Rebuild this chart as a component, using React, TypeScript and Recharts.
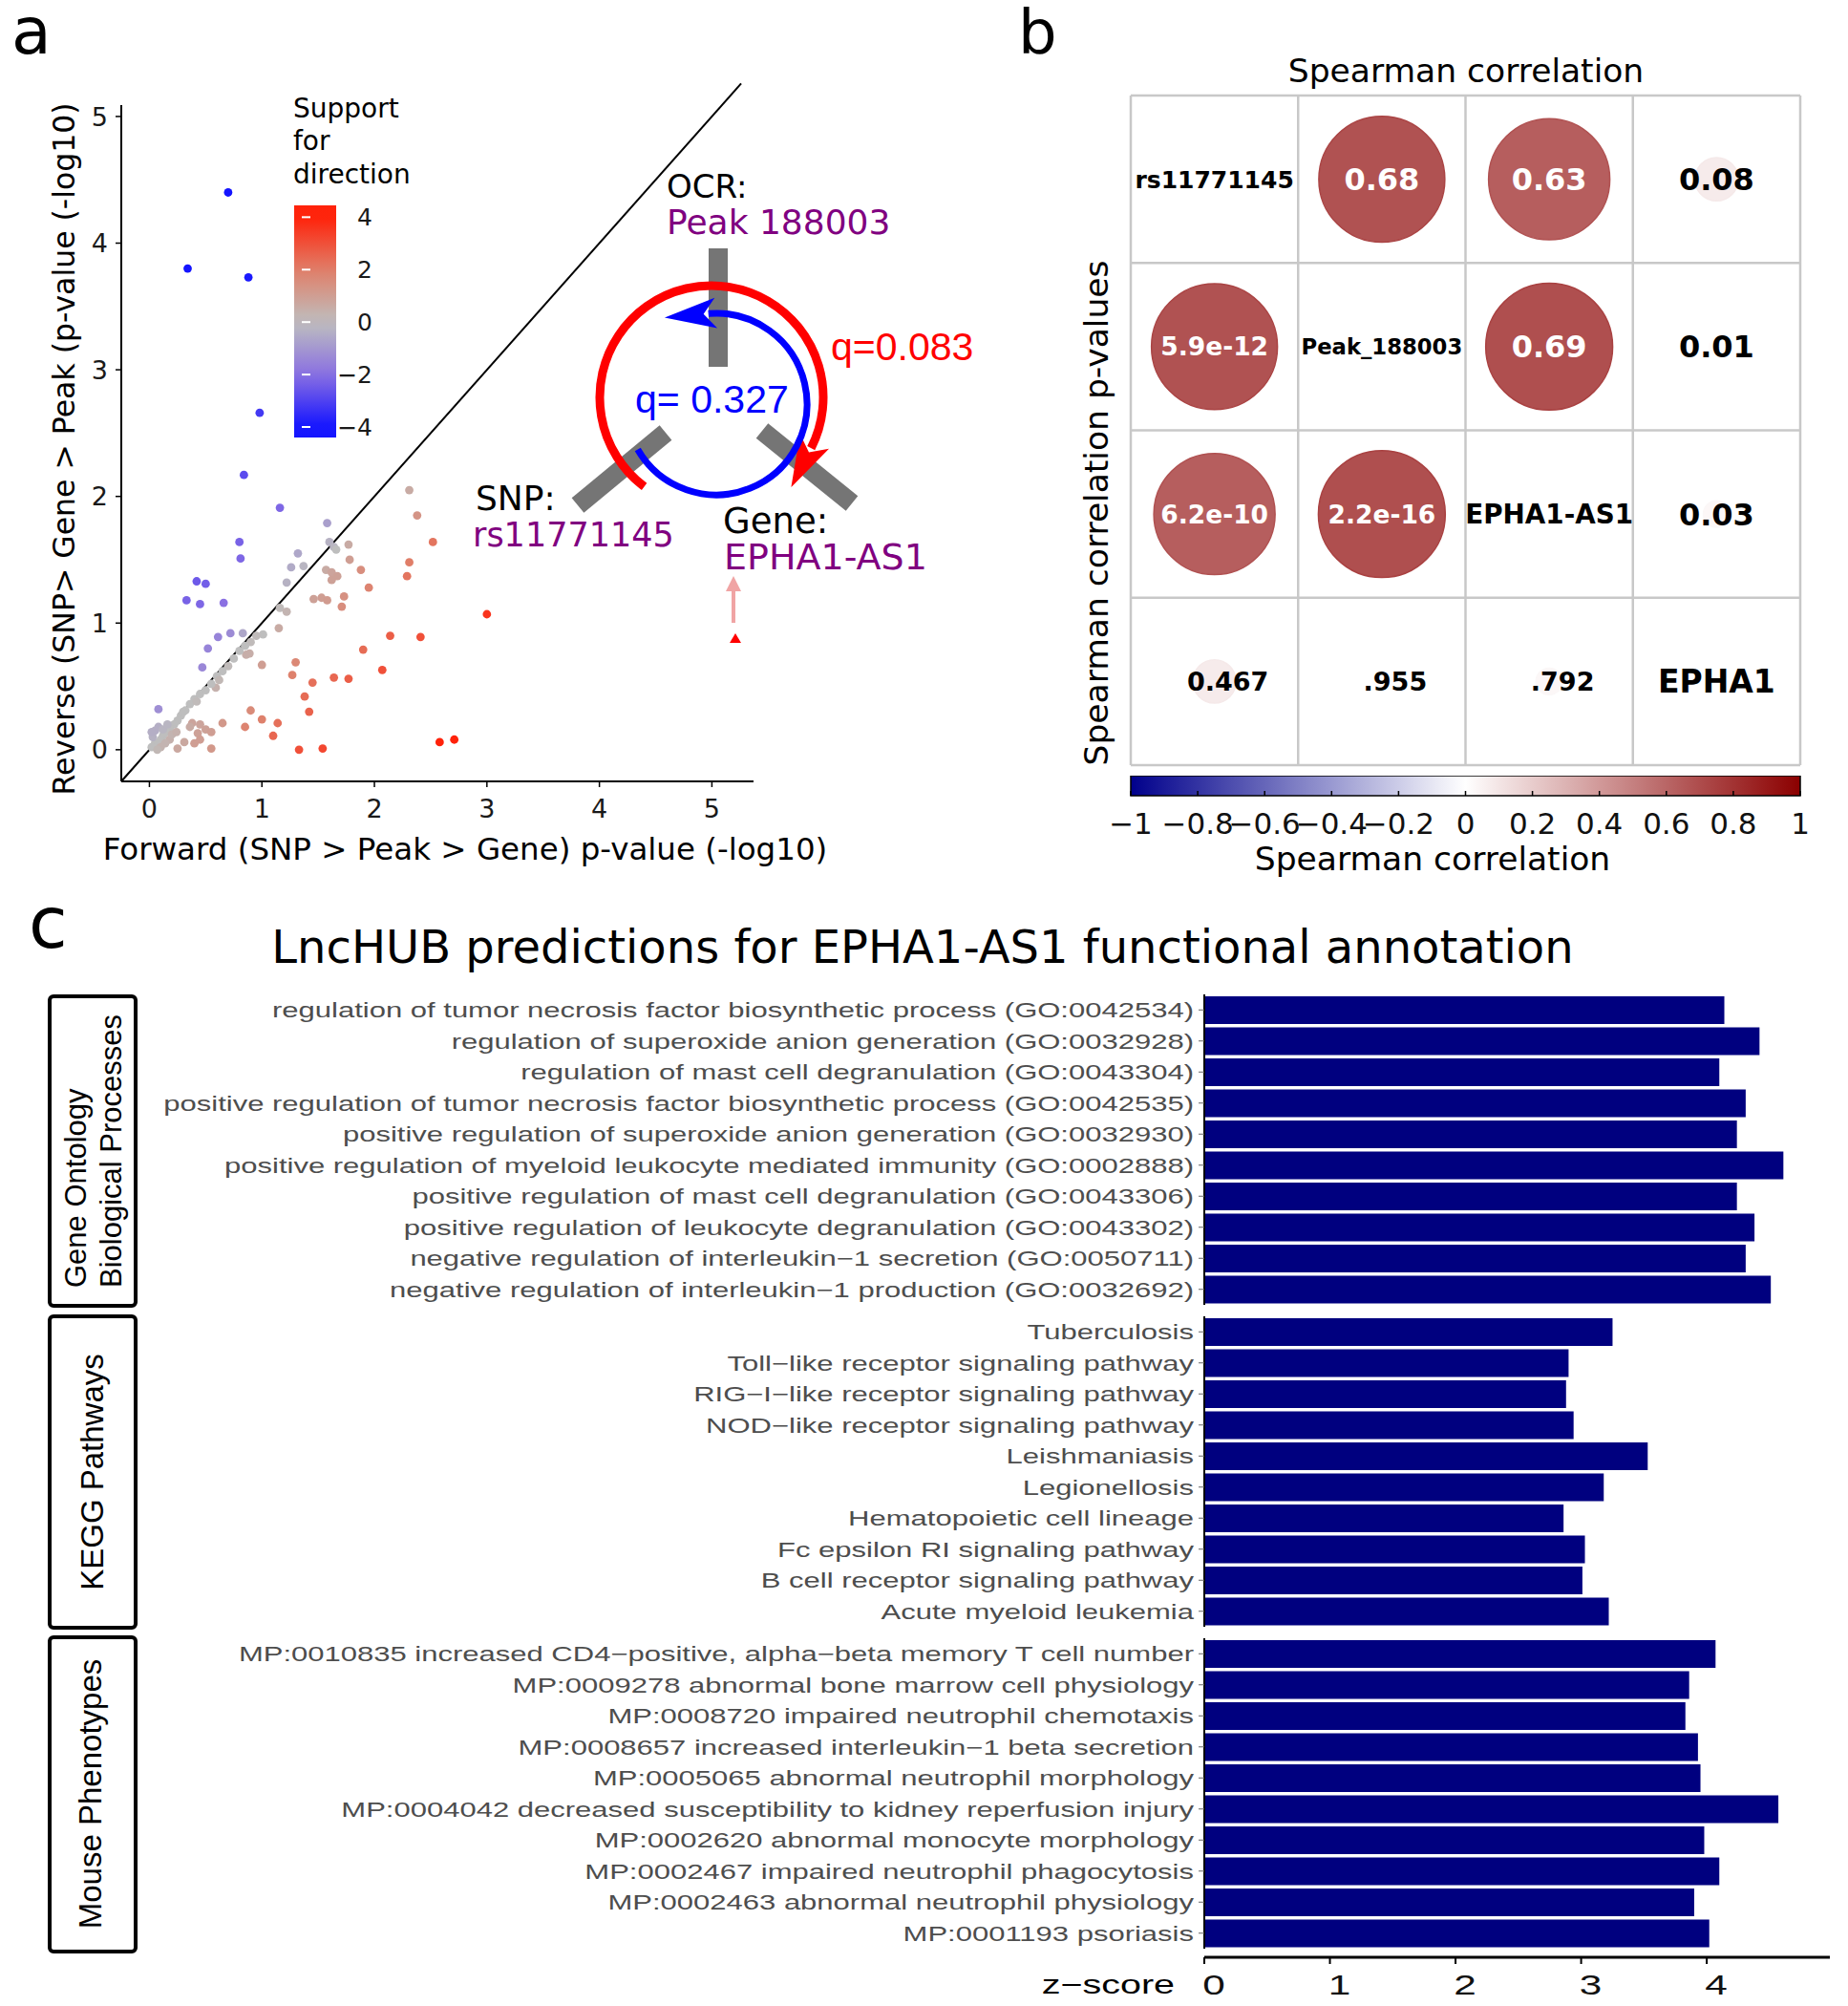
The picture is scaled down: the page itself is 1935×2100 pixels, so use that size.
import React from "react"
import {
  ScatterChart,
  Scatter,
  ComposedChart,
  Line,
  BarChart,
  Bar,
  XAxis,
  YAxis,
  ReferenceLine,
  ReferenceArea,
} from "recharts"

// ---- panel a: forward vs reverse p-value (-log10), support for direction
// [forward, reverse, support]
const scatterPoints: [number, number, number][] = [
  [0.7, 4.4, -4.2], [0.34, 3.8, -4.0], [0.88, 3.73, -3.9], [0.98, 2.66, -3.2],
  [0.84, 2.17, -2.8], [1.16, 1.91, -2.2], [0.8, 1.64, -2.3], [0.81, 1.51, -2.2],
  [0.42, 1.33, -2.5], [0.5, 1.31, -2.4], [0.33, 1.18, -2.3], [0.45, 1.15, -2.2],
  [0.66, 1.16, -2.0], [0.61, 0.89, -1.5], [0.72, 0.92, -1.3], [0.52, 0.8, -1.5],
  [0.47, 0.65, -1.4], [0.08, 0.32, -1.2], [0.83, 0.92, -0.6], [1.01, 0.91, 0],
  [0.59, 0.49, 0.4],
  [1.58, 1.79, -0.8], [1.6, 1.64, -0.3], [1.64, 1.6, -0.2], [1.66, 1.58, 0],
  [1.32, 1.55, -0.6], [1.26, 1.44, -0.5], [1.37, 1.45, -0.2], [1.22, 1.32, -0.3],
  [1.16, 1.12, 0.1], [1.22, 1.09, 0.3], [1.15, 0.96, 0.6], [0.86, 0.75, 0.5],
  [0.89, 0.76, 0.5], [0.95, 0.9, 0.1], [0.9, 0.85, 0.1], [0.85, 0.82, 0],
  [0.8, 0.78, 0], [0.75, 0.72, 0], [0.7, 0.66, 0.1], [0.65, 0.62, 0],
  [0.6, 0.58, 0], [0.55, 0.52, 0], [0.5, 0.47, 0], [0.45, 0.44, 0],
  [0.4, 0.4, 0], [0.36, 0.36, 0], [0.32, 0.31, 0], [0.28, 0.27, 0],
  [0.25, 0.23, 0], [0.22, 0.2, 0], [0.18, 0.17, 0], [0.15, 0.14, 0],
  [0.12, 0.11, 0], [0.1, 0.08, 0], [0.05, 0.05, 0], [0.02, 0.02, 0],
  [0.03, 0.1, -0.3], [0.05, 0.15, -0.4], [0.08, 0.18, -0.4], [0.12, 0.16, -0.2],
  [0.16, 0.2, -0.2], [0.02, 0.14, -0.4], [0.1, 0.02, 0.3], [0.18, 0.08, 0.4],
  [0.2, 0.12, 0.3], [0.14, 0.05, 0.3], [0.07, 0.0, 0.2], [0.3, 0.3, 0],
  [0.42, 0.38, 0.1], [0.62, 0.55, 0.2],
  [1.77, 1.62, 0.6], [1.78, 1.5, 1.0], [1.57, 1.42, 0.6], [1.62, 1.4, 0.8],
  [1.67, 1.37, 0.9], [1.62, 1.34, 0.9], [1.46, 1.19, 0.9], [1.53, 1.2, 1.0],
  [1.58, 1.18, 1.1], [1.73, 1.21, 1.4], [1.71, 1.13, 1.5], [1.88, 1.42, 1.5],
  [1.95, 1.28, 1.8], [2.31, 2.05, 0.6], [2.38, 1.85, 1.3], [2.52, 1.64, 2.2],
  [2.31, 1.48, 2.0], [2.29, 1.37, 2.2], [3.0, 1.07, 3.6], [2.14, 0.9, 2.7],
  [2.41, 0.89, 3.0], [1.9, 0.79, 2.4], [2.07, 0.63, 3.0], [1.64, 0.57, 2.5],
  [1.77, 0.56, 2.7], [1.45, 0.53, 2.3], [1.3, 0.69, 1.7], [1.27, 0.59, 1.9],
  [1.0, 0.67, 1.0], [1.38, 0.42, 2.4], [1.42, 0.3, 2.6], [0.9, 0.31, 1.6],
  [1.0, 0.24, 1.9], [1.14, 0.21, 2.3], [0.85, 0.18, 1.8], [1.1, 0.11, 2.5],
  [1.33, 0.0, 3.0], [1.54, 0.01, 3.2], [2.58, 0.06, 4.2], [2.71, 0.08, 4.3],
  [0.65, 0.21, 1.2], [0.38, 0.21, 0.8], [0.45, 0.2, 0.8], [0.5, 0.16, 0.9],
  [0.43, 0.13, 0.9], [0.45, 0.08, 1.0], [0.55, 0.14, 1.0], [0.55, 0.01, 1.2],
  [0.25, 0.01, 0.7], [0.31, 0.06, 0.7], [0.24, 0.14, 0.4], [0.4, 0.05, 1.0],
  [0.36, 0.18, 0.6],
]
const axisTicksA = [0, 1, 2, 3, 4, 5]
const supportTicks = [-4, -2, 0, 2, 4]

// ---- panel b: spearman correlation matrix
const corrNames = ["rs11771145", "Peak_188003", "EPHA1-AS1", "EPHA1"]
// [row, col, rho]
const corrUpper: [number, number, number][] = [
  [0, 1, 0.68], [0, 2, 0.63], [0, 3, 0.08],
  [1, 2, 0.69], [1, 3, 0.01], [2, 3, 0.03],
]
// same pairs, shown below the diagonal
const corrPvalues = ["5.9e-12", "6.2e-10", "0.467", "2.2e-16", ".955", ".792"]
const corrbarTicks = [-1, -0.8, -0.6, -0.4, -0.2, 0, 0.2, 0.4, 0.6, 0.8, 1]

// ---- panel c: LncHUB z-scores
const goTerms = [
  "regulation of tumor necrosis factor biosynthetic process (GO:0042534)",
  "regulation of superoxide anion generation (GO:0032928)",
  "regulation of mast cell degranulation (GO:0043304)",
  "positive regulation of tumor necrosis factor biosynthetic process (GO:0042535)",
  "positive regulation of superoxide anion generation (GO:0032930)",
  "positive regulation of myeloid leukocyte mediated immunity (GO:0002888)",
  "positive regulation of mast cell degranulation (GO:0043306)",
  "positive regulation of leukocyte degranulation (GO:0043302)",
  "negative regulation of interleukin\u22121 secretion (GO:0050711)",
  "negative regulation of interleukin\u22121 production (GO:0032692)",
]
const goZ = [4.14, 4.42, 4.1, 4.31, 4.24, 4.61, 4.24, 4.38, 4.31, 4.51]

const keggTerms = [
  "Tuberculosis",
  "Toll\u2212like receptor signaling pathway",
  "RIG\u2212I\u2212like receptor signaling pathway",
  "NOD\u2212like receptor signaling pathway",
  "Leishmaniasis",
  "Legionellosis",
  "Hematopoietic cell lineage",
  "Fc epsilon RI signaling pathway",
  "B cell receptor signaling pathway",
  "Acute myeloid leukemia",
]
const keggZ = [3.25, 2.9, 2.88, 2.94, 3.53, 3.18, 2.86, 3.03, 3.01, 3.22]

const mpTerms = [
  "MP:0010835 increased CD4\u2212positive, alpha\u2212beta memory T cell number",
  "MP:0009278 abnormal bone marrow cell physiology",
  "MP:0008720 impaired neutrophil chemotaxis",
  "MP:0008657 increased interleukin\u22121 beta secretion",
  "MP:0005065 abnormal neutrophil morphology",
  "MP:0004042 decreased susceptibility to kidney reperfusion injury",
  "MP:0002620 abnormal monocyte morphology",
  "MP:0002467 impaired neutrophil phagocytosis",
  "MP:0002463 abnormal neutrophil physiology",
  "MP:0001193 psoriasis",
]
const mpZ = [4.07, 3.86, 3.83, 3.93, 3.95, 4.57, 3.98, 4.1, 3.9, 4.02]
const zTicks = [0, 1, 2, 3, 4]

const SANS = "DejaVu Sans"
const HELV = "Liberation Sans, Arial, sans-serif"

type RGB = [number, number, number]
const supportStops: [number, RGB][] = [
  [-4, [20, 20, 255]],
  [-2, [138, 112, 226]],
  [0, [190, 190, 190]],
  [2, [224, 126, 104]],
  [4, [255, 34, 10]],
]

function supportColor(s: number) {
  const v = Math.max(-4, Math.min(4, s))
  for (let i = 0; i < supportStops.length - 1; i++) {
    const [a, ca] = supportStops[i]
    const [b, cb] = supportStops[i + 1]
    if (v <= b) {
      const t = (v - a) / (b - a)
      const c = ca.map((k, j) => Math.round(k + (cb[j] - k) * t))
      return `rgb(${c[0]},${c[1]},${c[2]})`
    }
  }
  return "rgb(255,34,10)"
}

function corrColor(r: number) {
  const t = Math.min(1, Math.abs(r))
  if (r >= 0) {
    return `rgb(${Math.round(255 - 116 * t)},${Math.round(255 - 255 * t)},${Math.round(255 - 255 * t)})`
  }
  return `rgb(${Math.round(255 - 255 * t)},${Math.round(255 - 255 * t)},${Math.round(255 - 116 * t)})`
}

const minus = (v: number) => (v < 0 ? "\u2212" + Math.abs(v) : String(v))

const pointsA = scatterPoints.map(([x, y, s]) => ({ x, y, color: supportColor(s) }))

// correlation cells
interface CorrCell {
  x: number
  y: number
  r: number
  text: string
  fs: number
  white: boolean
  dx: number
}
const corrCells: CorrCell[] = []
corrNames.forEach((n, i) =>
  corrCells.push({ x: i + 0.5, y: i + 0.5, r: 0, text: n, fs: Math.min(33, 170 / (n.length * 0.68)), white: false, dx: 0 })
)
corrUpper.forEach(([row, col, r], k) => {
  corrCells.push({ x: col + 0.5, y: row + 0.5, r, text: r.toFixed(2), fs: 32, white: r > 0.3, dx: 0 })
  corrCells.push({
    x: row + 0.5,
    y: col + 0.5,
    r,
    text: corrPvalues[k],
    fs: r > 0.3 ? 26.5 : 27,
    white: r > 0.3,
    dx: r > 0.3 ? 0 : 14,
  })
})

function CorrShape(props: any) {
  const { cx, cy, payload } = props
  const rad = payload.r ? 80 * Math.sqrt(Math.abs(payload.r)) : 0
  return (
    <g>
      {rad > 0 && (
        <circle cx={cx} cy={cy} r={rad} fill={corrColor(payload.r)} stroke={corrColor(Math.min(1, payload.r * 1.08))} strokeWidth={1.5} />
      )}
      <text
        x={cx + payload.dx}
        y={cy}
        dy="0.36em"
        textAnchor="middle"
        fontFamily={SANS}
        fontWeight="bold"
        fontSize={payload.fs}
        fill={payload.white ? "#fff" : "#000"}
      >
        {payload.text}
      </text>
    </g>
  )
}

function SupportTick(props: any) {
  const { x, y, payload } = props
  return (
    <g>
      <line x1={x - 36} x2={x - 27} y1={y} y2={y} stroke="#fff" strokeWidth={2} />
      <text x={x + 38} y={y} dy="0.36em" textAnchor="end" fontFamily={SANS} fontSize={25} fill="#1a1a1a">
        {minus(payload.value)}
      </text>
    </g>
  )
}

function CorrBarTick(props: any) {
  const { x, y, payload } = props
  return (
    <g>
      <line x1={x} x2={x} y1={y - 5} y2={y} stroke="#000" strokeWidth={1.5} />
      <text x={x} y={y + 29} dy="0.36em" textAnchor="middle" fontFamily={SANS} fontSize={31} fill="#111">
        {minus(payload.value)}
      </text>
    </g>
  )
}

function TermTick(props: any) {
  const { x, y, payload } = props
  return (
    <text
      transform={`translate(${x},${y}) scale(1.41,1)`}
      textAnchor="end"
      dy="0.36em"
      fontFamily={HELV}
      fontSize={22}
      fill="#4d4d4d"
    >
      {payload.value}
    </text>
  )
}

function ZTick(props: any) {
  const { x, y, payload } = props
  return (
    <g>
      <line x1={x} x2={x} y1={y + 9} y2={y + 16} stroke="#000" strokeWidth={2} />
      <text
        transform={`translate(${x + 10},${y + 37}) scale(1.41,1)`}
        textAnchor="middle"
        dy="0.36em"
        fontFamily={HELV}
        fontSize={30}
        fill="#111"
      >
        {payload.value}
      </text>
    </g>
  )
}

function Facet({ terms, values, top, last }: { terms: string[]; values: number[]; top: number; last?: boolean }) {
  const data = terms.map((t, i) => ({ term: t, z: values[i] }))
  return (
    <div style={{ position: "absolute", left: 0, top }}>
      <BarChart
        width={1935}
        height={last ? 385 : 325}
        data={data}
        layout="vertical"
        margin={{ top: 0, right: 19, bottom: 0, left: 0 }}
      >
        {last ? (
          <XAxis
            type="number"
            domain={[0, 4.98]}
            ticks={zTicks}
            interval={0}
            height={60}
            allowDataOverflow
            axisLine={{ stroke: "#000", strokeWidth: 3, transform: "translate(0,9)" }}
            tickLine={false}
            tickSize={0}
            tickMargin={0}
            tick={<ZTick />}
          />
        ) : (
          <XAxis type="number" domain={[0, 4.98]} allowDataOverflow hide />
        )}
        <YAxis
          type="category"
          dataKey="term"
          width={1261}
          interval={0}
          axisLine={{ stroke: "#000", strokeWidth: 2 }}
          tickLine={{ stroke: "#666" }}
          tickSize={6}
          tickMargin={5}
          tick={<TermTick />}
        />
        <Bar dataKey="z" fill="#00007f" barSize={29} isAnimationActive={false} />
      </BarChart>
    </div>
  )
}

const pol = (cx: number, cy: number, r: number, deg: number) => {
  const a = (deg * Math.PI) / 180
  return [cx + r * Math.cos(a), cy + r * Math.sin(a)]
}

function arrowHead(e: number[], t: number[], len: number, w: number) {
  const n = [-t[1], t[0]]
  const pts = [
    [e[0] + t[0] * len, e[1] + t[1] * len],
    [e[0] - t[0] * 8 + n[0] * w, e[1] - t[1] * 8 + n[1] * w],
    [e[0] + t[0] * 5, e[1] + t[1] * 5],
    [e[0] - t[0] * 8 - n[0] * w, e[1] - t[1] * 8 - n[1] * w],
  ]
  return pts.map((p) => p.map((v) => v.toFixed(1)).join(",")).join(" ")
}

function Diagram() {
  // red loop (forward), clockwise
  const rs = pol(745, 416, 117, 127)
  const re = pol(745, 416, 117, 27)
  const rt = [-Math.sin((27 * Math.PI) / 180), Math.cos((27 * Math.PI) / 180)]
  // blue loop (reverse), counter-clockwise
  const bs = pol(750, 423, 95, 150)
  const be = pol(750, 423, 95, -95)
  const bt = [Math.sin((-95 * Math.PI) / 180), -Math.cos((-95 * Math.PI) / 180)]
  return (
    <g>
      <g stroke="#6e6e6e" strokeWidth={20} opacity={0.95}>
        <line x1={752} y1={260} x2={752} y2={384} />
        <line x1={697} y1={453} x2={605} y2={529} />
        <line x1={798} y1={451} x2={892} y2={527} />
      </g>
      <path d={`M${rs[0]},${rs[1]} A117,117 0 1 1 ${re[0]},${re[1]}`} fill="none" stroke="#ff0000" strokeWidth={9} />
      <polygon points={arrowHead(re, rt, 46, 17)} fill="#ff0000" />
      <path d={`M${bs[0]},${bs[1]} A95,95 0 1 0 ${be[0]},${be[1]}`} fill="none" stroke="#0000ff" strokeWidth={7} />
      <polygon points={arrowHead(be, bt, 46, 16)} fill="#0000ff" />

      <text x={698} y={207} fontSize={34}>OCR:</text>
      <text x={698} y={245} fontSize={36} fill="#800080">Peak 188003</text>
      <text x={870} y={377} fontSize={41} fill="#ff0000" fontFamily={HELV}>q=0.083</text>
      <text x={665} y={432} fontSize={41} fill="#0000ff" fontFamily={HELV}>q= 0.327</text>
      <text x={498} y={534} fontSize={36}>SNP:</text>
      <text x={495} y={572} fontSize={35} fill="#800080">rs11771145</text>
      <text x={757} y={558} fontSize={37}>Gene:</text>
      <text x={758} y={596} fontSize={38} fill="#800080">EPHA1-AS1</text>

      <line x1={768} y1={652} x2={768} y2={614} stroke="#f0a4a4" strokeWidth={4} />
      <polygon points="768,603 760,619 776,619" fill="#f0a4a4" />
      <polygon points="770,663 764,673 776,673" fill="#ff0000" />
    </g>
  )
}

function Overlay() {
  return (
    <svg
      width={1935}
      height={2100}
      style={{ position: "absolute", left: 0, top: 0, pointerEvents: "none" }}
      fontFamily={SANS}
      fill="#000"
    >
      {/* panel letters */}
      <text x={12} y={56} fontSize={68}>a</text>
      <text x={1066} y={56} fontSize={64}>b</text>
      <text x={30} y={992} fontSize={74}>c</text>

      {/* panel a */}
      <text x={487} y={900} fontSize={32.5} textAnchor="middle">
        Forward (SNP &gt; Peak &gt; Gene) p-value (-log10)
      </text>
      <text transform="translate(78,470) rotate(-90)" fontSize={31.5} textAnchor="middle">
        Reverse (SNP&gt; Gene &gt; Peak (p-value (-log10)
      </text>
      <text x={307} y={123} fontSize={28}>Support</text>
      <text x={307} y={157} fontSize={28}>for</text>
      <text x={307} y={192} fontSize={28}>direction</text>
      <Diagram />

      {/* panel b */}
      <text x={1535} y={86} fontSize={34.5} textAnchor="middle">Spearman correlation</text>
      <text transform="translate(1160,537) rotate(-90)" fontSize={34.5} textAnchor="middle">
        Spearman correlation p-values
      </text>
      <text x={1500} y={911} fontSize={34.5} textAnchor="middle">Spearman correlation</text>

      {/* panel c */}
      <text x={966} y={1008} fontSize={48} textAnchor="middle">
        LncHUB predictions for EPHA1-AS1 functional annotation
      </text>
      <g fill="none" stroke="#000" strokeWidth={4}>
        <rect x={52} y={1043} width={90} height={324} rx={4} />
        <rect x={52} y={1378} width={90} height={326} rx={4} />
        <rect x={52} y={1714} width={90} height={329} rx={4} />
      </g>
      <g fontFamily={HELV}>
        <text transform="translate(90,1348) rotate(-90)" fontSize={31}>Gene Ontology</text>
        <text transform="translate(127,1348) rotate(-90)" fontSize={31}>Biological Processes</text>
        <text transform="translate(108,1541) rotate(-90)" fontSize={33} textAnchor="middle">KEGG Pathways</text>
        <text transform="translate(106,1878) rotate(-90)" fontSize={33} textAnchor="middle">Mouse Phenotypes</text>
        <text transform="translate(1230,2077) scale(1.41,1)" dy="0.36em" fontSize={28} textAnchor="end">
          z{"\u2212"}score
        </text>
      </g>
    </svg>
  )
}

const gradA = Array.from({ length: 18 }, (_, i) => {
  const v = 4.45 - (i * (4.45 + 4.4)) / 17
  return { off: i / 17, color: supportColor(v) }
})
const gradB = Array.from({ length: 21 }, (_, i) => ({ off: i / 20, color: corrColor(-1 + i * 0.1) }))

export default function App() {
  return (
    <div style={{ position: "absolute", left: 0, top: 0, width: 1935, height: 2100, background: "#fff", fontFamily: SANS }}>
      {/* panel a scatter */}
      <div style={{ position: "absolute", left: 0, top: 0 }}>
        <ScatterChart width={870} height={930} margin={{ top: 110, right: 81, bottom: 72, left: 87 }}>
          <XAxis
            type="number"
            dataKey="x"
            domain={[-0.25, 5.37]}
            ticks={axisTicksA}
            interval={0}
            allowDataOverflow
            height={40}
            stroke="#000"
            axisLine={{ stroke: "#000", strokeWidth: 2 }}
            tickLine={{ stroke: "#000", strokeWidth: 1.5 }}
            tickSize={6}
            tickMargin={13}
            tick={{ fontSize: 27, fill: "#1a1a1a", fontFamily: SANS }}
          />
          <YAxis
            type="number"
            dataKey="y"
            domain={[-0.25, 5.09]}
            ticks={axisTicksA}
            interval={0}
            allowDataOverflow
            width={40}
            stroke="#000"
            axisLine={{ stroke: "#000", strokeWidth: 2 }}
            tickLine={{ stroke: "#000", strokeWidth: 1.5 }}
            tickSize={6}
            tickMargin={8}
            tick={{ fontSize: 27, fill: "#1a1a1a", fontFamily: SANS }}
          />
          <ReferenceLine
            segment={[{ x: -0.25, y: -0.25 }, { x: 5.26, y: 5.26 }]}
            stroke="#000"
            strokeWidth={2}
            ifOverflow="visible"
          />
          <Scatter
            data={pointsA}
            isAnimationActive={false}
            shape={(p: any) => <circle cx={p.cx} cy={p.cy} r={4.4} fill={p.payload.color} />}
          />
        </ScatterChart>
      </div>

      {/* panel a colour bar */}
      <div style={{ position: "absolute", left: 308, top: 200 }}>
        <ComposedChart
          width={96}
          height={273}
          data={supportTicks.map((v) => ({ v, x: 0.5 }))}
          margin={{ top: 15, right: 0, bottom: 15, left: 0 }}
        >
          <defs>
            <linearGradient id="gradA" x1="0" y1="0" x2="0" y2="1">
              {gradA.map((g, i) => (
                <stop key={i} offset={g.off} stopColor={g.color} />
              ))}
            </linearGradient>
          </defs>
          <XAxis type="number" dataKey="x" domain={[0, 1]} hide />
          <YAxis
            type="number"
            dataKey="v"
            orientation="right"
            width={52}
            domain={[-4.4, 4.45]}
            ticks={supportTicks}
            interval={0}
            allowDataOverflow
            axisLine={false}
            tickLine={false}
            tickSize={0}
            tickMargin={0}
            tick={<SupportTick />}
          />
          <ReferenceArea x1={0} x2={1} y1={-4.4} y2={4.45} fill="url(#gradA)" fillOpacity={1} stroke="none" />
          <Line dataKey="v" stroke="none" dot={false} isAnimationActive={false} />
        </ComposedChart>
      </div>

      {/* panel b matrix */}
      <div style={{ position: "absolute", left: 1180, top: 96 }}>
        <ScatterChart width={709} height={709} margin={{ top: 4, right: 4, bottom: 4, left: 4 }}>
          <XAxis type="number" dataKey="x" domain={[0, 4]} hide />
          <YAxis type="number" dataKey="y" domain={[0, 4]} reversed hide />
          {[0, 1, 2, 3, 4].map((v) => (
            <ReferenceLine key={"v" + v} x={v} stroke="#c8c8c8" strokeWidth={2.5} />
          ))}
          {[0, 1, 2, 3, 4].map((v) => (
            <ReferenceLine key={"h" + v} y={v} stroke="#c8c8c8" strokeWidth={2.5} />
          ))}
          <Scatter data={corrCells} isAnimationActive={false} shape={<CorrShape />} />
        </ScatterChart>
      </div>

      {/* panel b colour bar */}
      <div style={{ position: "absolute", left: 1144, top: 812 }}>
        <ComposedChart
          width={781}
          height={75}
          data={corrbarTicks.map((t) => ({ t, y: 0 }))}
          margin={{ top: 0, right: 40, bottom: 0, left: 40 }}
        >
          <defs>
            <linearGradient id="gradB" x1="0" y1="0" x2="1" y2="0">
              {gradB.map((g, i) => (
                <stop key={i} offset={g.off} stopColor={g.color} />
              ))}
            </linearGradient>
          </defs>
          <XAxis
            type="number"
            dataKey="t"
            domain={[-1, 1]}
            ticks={corrbarTicks}
            interval={0}
            height={54}
            axisLine={false}
            tickLine={false}
            tickSize={0}
            tickMargin={0}
            tick={<CorrBarTick />}
          />
          <YAxis type="number" domain={[0, 1]} hide />
          <ReferenceArea x1={-1} x2={1} y1={0} y2={1} fill="url(#gradB)" fillOpacity={1} stroke="#000" strokeWidth={1.5} />
          <Line dataKey="y" stroke="none" dot={false} isAnimationActive={false} />
        </ComposedChart>
      </div>

      {/* panel c facets */}
      <Facet terms={goTerms} values={goZ} top={1041} />
      <Facet terms={keggTerms} values={keggZ} top={1378} />
      <Facet terms={mpTerms} values={mpZ} top={1715} last />

      <Overlay />
    </div>
  )
}
